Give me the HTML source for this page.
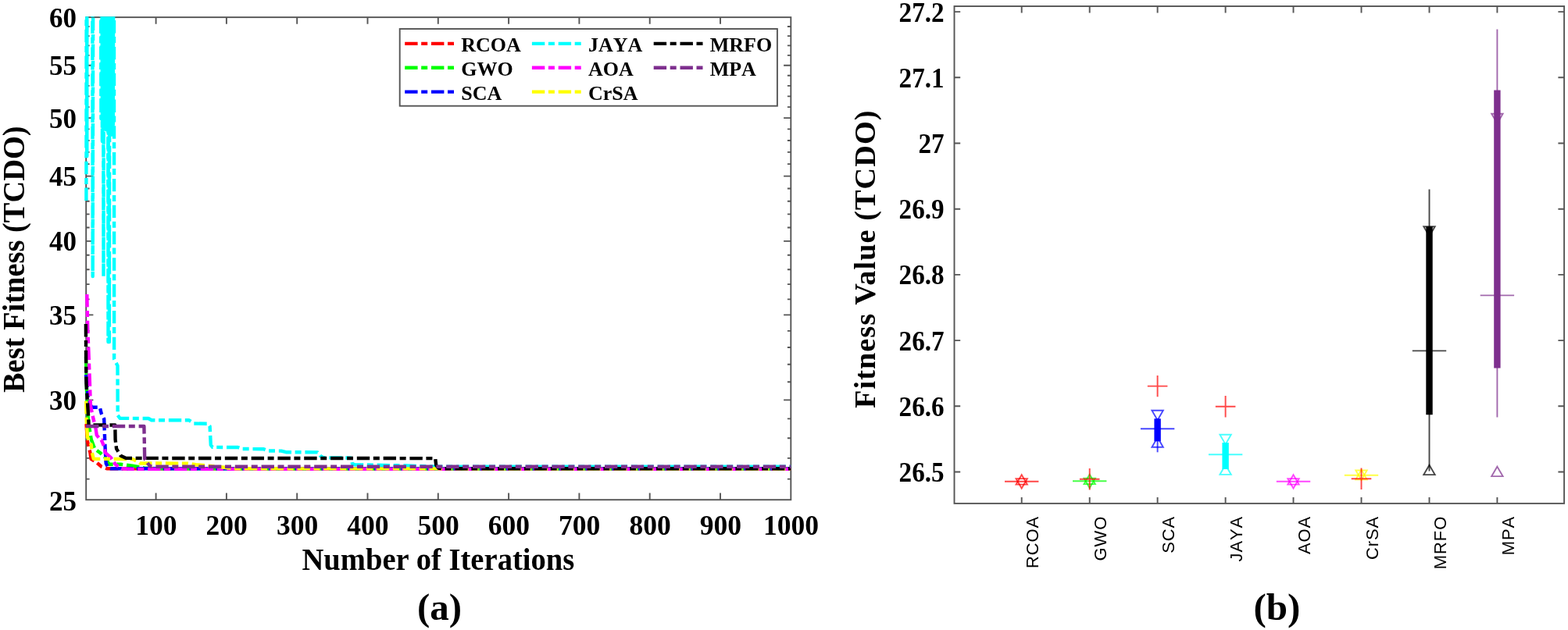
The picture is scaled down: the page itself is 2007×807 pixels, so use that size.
<!DOCTYPE html>
<html lang="en"><head><meta charset="utf-8"><title>Convergence curves and box plot</title>
<style>html,body{margin:0;padding:0;background:#fff}body{width:2007px;height:807px;overflow:hidden}svg{display:block}</style>
</head><body>
<svg width="2007" height="807" viewBox="0 0 2007 807">
<defs><clipPath id="cl"><rect x="107.20" y="21.25" width="906.00" height="619.85"/></clipPath></defs>
<rect width="2007" height="807" fill="#fff"/>
<g stroke="#555555" stroke-width="1.9" fill="none">
<rect x="110.2" y="22.15" width="902.10" height="618.05"/>
<path d="M199.6,640.2 v-8.6 M199.6,22.15 v8.6"/>
<path d="M289.9,640.2 v-8.6 M289.9,22.15 v8.6"/>
<path d="M380.2,640.2 v-8.6 M380.2,22.15 v8.6"/>
<path d="M470.5,640.2 v-8.6 M470.5,22.15 v8.6"/>
<path d="M560.8,640.2 v-8.6 M560.8,22.15 v8.6"/>
<path d="M651.1,640.2 v-8.6 M651.1,22.15 v8.6"/>
<path d="M741.4,640.2 v-8.6 M741.4,22.15 v8.6"/>
<path d="M831.7,640.2 v-8.6 M831.7,22.15 v8.6"/>
<path d="M922.0,640.2 v-8.6 M922.0,22.15 v8.6"/>
<path d="M110.2,613.6 h4.4 M1012.3,613.6 h-4.4"/>
<path d="M110.2,586.9 h4.4 M1012.3,586.9 h-4.4"/>
<path d="M110.2,561.2 h4.4 M1012.3,561.2 h-4.4"/>
<path d="M110.2,536.4 h4.4 M1012.3,536.4 h-4.4"/>
<path d="M110.2,512.4 h9.2 M1012.3,512.4 h-9.2"/>
<path d="M110.2,489.2 h4.4 M1012.3,489.2 h-4.4"/>
<path d="M110.2,466.7 h4.4 M1012.3,466.7 h-4.4"/>
<path d="M110.2,445.0 h4.4 M1012.3,445.0 h-4.4"/>
<path d="M110.2,423.9 h4.4 M1012.3,423.9 h-4.4"/>
<path d="M110.2,403.4 h9.2 M1012.3,403.4 h-9.2"/>
<path d="M110.2,383.4 h4.4 M1012.3,383.4 h-4.4"/>
<path d="M110.2,364.1 h4.4 M1012.3,364.1 h-4.4"/>
<path d="M110.2,345.2 h4.4 M1012.3,345.2 h-4.4"/>
<path d="M110.2,326.8 h4.4 M1012.3,326.8 h-4.4"/>
<path d="M110.2,308.9 h9.2 M1012.3,308.9 h-9.2"/>
<path d="M110.2,291.5 h4.4 M1012.3,291.5 h-4.4"/>
<path d="M110.2,274.4 h4.4 M1012.3,274.4 h-4.4"/>
<path d="M110.2,257.8 h4.4 M1012.3,257.8 h-4.4"/>
<path d="M110.2,241.5 h4.4 M1012.3,241.5 h-4.4"/>
<path d="M110.2,225.6 h9.2 M1012.3,225.6 h-9.2"/>
<path d="M110.2,210.1 h4.4 M1012.3,210.1 h-4.4"/>
<path d="M110.2,194.9 h4.4 M1012.3,194.9 h-4.4"/>
<path d="M110.2,180.0 h4.4 M1012.3,180.0 h-4.4"/>
<path d="M110.2,165.4 h4.4 M1012.3,165.4 h-4.4"/>
<path d="M110.2,151.1 h9.2 M1012.3,151.1 h-9.2"/>
<path d="M110.2,137.1 h4.4 M1012.3,137.1 h-4.4"/>
<path d="M110.2,123.4 h4.4 M1012.3,123.4 h-4.4"/>
<path d="M110.2,109.9 h4.4 M1012.3,109.9 h-4.4"/>
<path d="M110.2,96.7 h4.4 M1012.3,96.7 h-4.4"/>
<path d="M110.2,83.7 h9.2 M1012.3,83.7 h-9.2"/>
<path d="M110.2,70.9 h4.4 M1012.3,70.9 h-4.4"/>
<path d="M110.2,58.4 h4.4 M1012.3,58.4 h-4.4"/>
<path d="M110.2,46.1 h4.4 M1012.3,46.1 h-4.4"/>
<path d="M110.2,34.0 h4.4 M1012.3,34.0 h-4.4"/>
</g>
<g clip-path="url(#cl)">
<path d="M110.5,543.0 L111.9,565.0 L115.4,579.8 L116.5,587.8 L123.8,592.5 L129.7,597.7 L136.7,600.3 L1012.3,600.3" fill="none" stroke="#ff0000" stroke-width="4.4" stroke-dasharray="16.4 4.6 8 4.8" stroke-linejoin="round" />
<path d="M110.0,457.0 L111.0,500.0 L113.0,540.0 L116.8,563.0 L121.3,574.9 L127.8,579.8 L133.7,584.8 L139.6,594.7 L154.5,594.7 L169.4,596.7 L185.0,599.5 L200.0,600.3 L1012.3,600.3" fill="none" stroke="#00ff00" stroke-width="4.4" stroke-dasharray="16.4 4.6 8 4.8" stroke-linejoin="round" />
<path d="M110.0,480.0 L113.0,512.0 L117.3,521.7 L127.8,521.7 L129.7,529.6 L133.2,536.6 L134.2,564.3 L134.4,569.9 L135.7,593.7 L138.7,599.3 L142.0,600.3 L1012.3,600.3" fill="none" stroke="#0000ff" stroke-width="4.4" stroke-dasharray="16.4 4.6 8 4.8" stroke-linejoin="round" />
<path d="M110.4,257.0 L110.6,-30.0 L111.2,-30.0 L111.3,200.0 L111.4,-30.0 L118.3,-30.0 L118.7,354.0 L119.2,-30.0 L129.0,-30.0 L129.4,152.0 L129.8,-30.0 L130.5,-30.0 L130.9,181.0 L131.3,-30.0 L132.1,-30.0 L132.5,354.0 L132.9,-30.0 L133.8,-30.0 L134.2,150.0 L134.6,-30.0 L135.2,-30.0 L135.6,166.0 L136.0,-30.0 L136.6,-30.0 L137.0,160.0 L137.4,-30.0 L138.1,-30.0 L138.5,438.0 L138.9,-30.0 L138.8,-30.0 L139.2,172.0 L139.6,-30.0 L139.5,-30.0 L139.9,438.0 L140.3,-30.0 L141.6,-30.0 L142.0,165.0 L142.4,-30.0 L143.1,-30.0 L143.5,176.0 L143.9,-30.0 L144.4,-30.0 L144.8,160.0 L145.2,-30.0 L146.0,-30.0 L146.1,460.0 L150.5,468.5 L150.7,532.0 L153.5,535.8 L190.0,536.0 L194.0,538.2 L242.0,538.3 L248.0,542.5 L266.0,542.7 L268.6,546.0 L269.8,570.0 L272.0,572.9 L304.5,573.0 L310.0,575.0 L337.5,575.2 L343.0,577.5 L360.0,577.6 L366.0,579.2 L406.5,579.4 L410.0,584.0 L414.0,586.3 L449.5,586.6 L451.0,594.0 L454.0,595.2 L520.0,596.5 L560.0,597.6 L1012.3,597.6" fill="none" stroke="#00ffff" stroke-width="4.4" stroke-dasharray="16.4 4.6 8 4.8" stroke-linejoin="round" />
<path d="M111.3,377.0 L112.2,420.0 L113.4,450.0 L114.9,490.0 L115.9,520.0 L119.3,535.6 L122.3,547.5 L123.8,557.4 L128.7,563.3 L129.7,563.5 L133.7,572.9 L134.7,579.8 L141.6,585.8 L147.6,594.7 L155.5,600.3 L170.0,600.9 L1012.3,600.9" fill="none" stroke="#ff00ff" stroke-width="4.4" stroke-dasharray="16.4 4.6 8 4.8" stroke-linejoin="round" />
<path d="M110.2,513.8 L110.8,540.0 L111.9,560.0 L116.8,569.9 L117.8,579.8 L119.8,587.8 L169.4,588.0 L175.0,590.7 L179.3,593.5 L240.0,593.6 L250.7,595.2 L270.0,597.0 L285.0,598.5 L300.0,600.3 L1012.3,600.6" fill="none" stroke="#ffff00" stroke-width="4.4" stroke-dasharray="16.4 4.6 8 4.8" stroke-linejoin="round" />
<path d="M109.8,415.0 L110.0,450.0 L110.4,490.0 L112.9,530.0 L113.6,544.3 L147.3,544.5 L147.6,563.0 L149.1,574.9 L154.5,583.8 L161.4,586.9 L557.2,587.1 L558.2,596.0 L561.0,599.5 L566.0,600.3 L1012.3,600.3" fill="none" stroke="#000000" stroke-width="4.4" stroke-dasharray="16.4 4.6 8 4.8" stroke-linejoin="round" />
<path d="M110.0,546.0 L184.4,546.0 L185.2,587.8 L189.2,593.7 L192.2,597.3 L196.0,597.7 L1012.3,597.7" fill="none" stroke="#7e2f8e" stroke-width="4.4" stroke-dasharray="16.4 4.6 8 4.8" stroke-linejoin="round" />
</g>
<text transform="translate(97.9,653.7) scale(0.972,1)" text-anchor="end" style="font-family:'Liberation Serif','Times New Roman',serif;font-weight:bold;font-size:36px">25</text>
<text transform="translate(97.9,524.8) scale(0.972,1)" text-anchor="end" style="font-family:'Liberation Serif','Times New Roman',serif;font-weight:bold;font-size:36px">30</text>
<text transform="translate(97.9,415.8) scale(0.972,1)" text-anchor="end" style="font-family:'Liberation Serif','Times New Roman',serif;font-weight:bold;font-size:36px">35</text>
<text transform="translate(97.9,321.3) scale(0.972,1)" text-anchor="end" style="font-family:'Liberation Serif','Times New Roman',serif;font-weight:bold;font-size:36px">40</text>
<text transform="translate(97.9,238.0) scale(0.972,1)" text-anchor="end" style="font-family:'Liberation Serif','Times New Roman',serif;font-weight:bold;font-size:36px">45</text>
<text transform="translate(97.9,163.5) scale(0.972,1)" text-anchor="end" style="font-family:'Liberation Serif','Times New Roman',serif;font-weight:bold;font-size:36px">50</text>
<text transform="translate(97.9,96.1) scale(0.972,1)" text-anchor="end" style="font-family:'Liberation Serif','Times New Roman',serif;font-weight:bold;font-size:36px">55</text>
<text transform="translate(97.9,34.5) scale(0.972,1)" text-anchor="end" style="font-family:'Liberation Serif','Times New Roman',serif;font-weight:bold;font-size:36px">60</text>
<text x="199.9" y="684.9" text-anchor="middle" style="font-family:'Liberation Serif','Times New Roman',serif;font-weight:bold;font-size:35.5px">100</text>
<text x="290.2" y="684.9" text-anchor="middle" style="font-family:'Liberation Serif','Times New Roman',serif;font-weight:bold;font-size:35.5px">200</text>
<text x="380.5" y="684.9" text-anchor="middle" style="font-family:'Liberation Serif','Times New Roman',serif;font-weight:bold;font-size:35.5px">300</text>
<text x="470.8" y="684.9" text-anchor="middle" style="font-family:'Liberation Serif','Times New Roman',serif;font-weight:bold;font-size:35.5px">400</text>
<text x="561.1" y="684.9" text-anchor="middle" style="font-family:'Liberation Serif','Times New Roman',serif;font-weight:bold;font-size:35.5px">500</text>
<text x="651.4" y="684.9" text-anchor="middle" style="font-family:'Liberation Serif','Times New Roman',serif;font-weight:bold;font-size:35.5px">600</text>
<text x="741.7" y="684.9" text-anchor="middle" style="font-family:'Liberation Serif','Times New Roman',serif;font-weight:bold;font-size:35.5px">700</text>
<text x="832.0" y="684.9" text-anchor="middle" style="font-family:'Liberation Serif','Times New Roman',serif;font-weight:bold;font-size:35.5px">800</text>
<text x="922.3" y="684.9" text-anchor="middle" style="font-family:'Liberation Serif','Times New Roman',serif;font-weight:bold;font-size:35.5px">900</text>
<text x="1012.6" y="684.9" text-anchor="middle" style="font-family:'Liberation Serif','Times New Roman',serif;font-weight:bold;font-size:35.5px">1000</text>
<text transform="translate(560.9,730.3) scale(0.98,1)" text-anchor="middle" style="font-family:'Liberation Serif','Times New Roman',serif;font-weight:bold;font-size:39.4px">Number of Iterations</text>
<text transform="translate(30.9,332.2) rotate(-90) scale(0.976,1)" text-anchor="middle" style="font-family:'Liberation Serif','Times New Roman',serif;font-weight:bold;font-size:39.4px">Best Fitness (TCDO)</text>
<text x="562.5" y="794" text-anchor="middle" style="font-family:'Liberation Serif','Times New Roman',serif;font-weight:bold;font-size:49px">(a)</text>
<rect x="511.7" y="37" width="483.2" height="98.7" fill="#fff" stroke="#555555" stroke-width="1.9"/>
<path d="M518.2,55.9 H581.8" stroke="#ff0000" stroke-width="4.4" stroke-dasharray="16.4 4.6 8 4.8" fill="none"/>
<text x="590.2" y="65.9" style="font-family:'Liberation Serif','Times New Roman',serif;font-weight:bold;font-size:26px;font-kerning:none">RCOA</text>
<path d="M518.2,86.8 H581.8" stroke="#00ff00" stroke-width="4.4" stroke-dasharray="16.4 4.6 8 4.8" fill="none"/>
<text x="590.2" y="96.8" style="font-family:'Liberation Serif','Times New Roman',serif;font-weight:bold;font-size:26px;font-kerning:none">GWO</text>
<path d="M518.2,117.6 H581.8" stroke="#0000ff" stroke-width="4.4" stroke-dasharray="16.4 4.6 8 4.8" fill="none"/>
<text x="590.2" y="127.6" style="font-family:'Liberation Serif','Times New Roman',serif;font-weight:bold;font-size:26px;font-kerning:none">SCA</text>
<path d="M680.9,55.9 H744.2" stroke="#00ffff" stroke-width="4.4" stroke-dasharray="16.4 4.6 8 4.8" fill="none"/>
<text x="752.9" y="65.9" style="font-family:'Liberation Serif','Times New Roman',serif;font-weight:bold;font-size:26px;font-kerning:none">JAYA</text>
<path d="M680.9,86.8 H744.2" stroke="#ff00ff" stroke-width="4.4" stroke-dasharray="16.4 4.6 8 4.8" fill="none"/>
<text x="752.9" y="96.8" style="font-family:'Liberation Serif','Times New Roman',serif;font-weight:bold;font-size:26px;font-kerning:none">AOA</text>
<path d="M680.9,117.6 H744.2" stroke="#ffff00" stroke-width="4.4" stroke-dasharray="16.4 4.6 8 4.8" fill="none"/>
<text x="752.9" y="127.6" style="font-family:'Liberation Serif','Times New Roman',serif;font-weight:bold;font-size:26px;font-kerning:none">CrSA</text>
<path d="M836.7,55.9 H900.2" stroke="#000000" stroke-width="4.4" stroke-dasharray="16.4 4.6 8 4.8" fill="none"/>
<text x="908.7" y="65.9" style="font-family:'Liberation Serif','Times New Roman',serif;font-weight:bold;font-size:26px;font-kerning:none">MRFO</text>
<path d="M836.7,86.8 H900.2" stroke="#7e2f8e" stroke-width="4.4" stroke-dasharray="16.4 4.6 8 4.8" fill="none"/>
<text x="908.7" y="96.8" style="font-family:'Liberation Serif','Times New Roman',serif;font-weight:bold;font-size:26px;font-kerning:none">MPA</text>
<g stroke="#555555" stroke-width="1.9" fill="none">
<rect x="1221.5" y="8.0" width="780.6" height="636.9"/>
<path d="M1307.7,644.9 v-8 M1307.7,8.0 v8.6"/>
<path d="M1394.7,644.9 v-8 M1394.7,8.0 v8.6"/>
<path d="M1481.6,644.9 v-8 M1481.6,8.0 v8.6"/>
<path d="M1568.6,644.9 v-8 M1568.6,8.0 v8.6"/>
<path d="M1655.5,644.9 v-8 M1655.5,8.0 v8.6"/>
<path d="M1742.5,644.9 v-8 M1742.5,8.0 v8.6"/>
<path d="M1829.5,644.9 v-8 M1829.5,8.0 v8.6"/>
<path d="M1916.4,644.9 v-8 M1916.4,8.0 v8.6"/>
<path d="M1221.5,604.5 h7.7 M2002.1,604.5 h-7.7"/>
<path d="M1221.5,520.3 h7.7 M2002.1,520.3 h-7.7"/>
<path d="M1221.5,436.1 h7.7 M2002.1,436.1 h-7.7"/>
<path d="M1221.5,351.9 h7.7 M2002.1,351.9 h-7.7"/>
<path d="M1221.5,267.7 h7.7 M2002.1,267.7 h-7.7"/>
<path d="M1221.5,183.5 h7.7 M2002.1,183.5 h-7.7"/>
<path d="M1221.5,99.3 h7.7 M2002.1,99.3 h-7.7"/>
<path d="M1221.5,15.1 h7.7 M2002.1,15.1 h-7.7"/>
</g>
<text transform="translate(1208.6,617.0) scale(0.921,1)" text-anchor="end" style="font-family:'Liberation Serif','Times New Roman',serif;font-weight:bold;font-size:36px">26.5</text>
<text transform="translate(1208.6,532.8) scale(0.921,1)" text-anchor="end" style="font-family:'Liberation Serif','Times New Roman',serif;font-weight:bold;font-size:36px">26.6</text>
<text transform="translate(1208.6,448.6) scale(0.921,1)" text-anchor="end" style="font-family:'Liberation Serif','Times New Roman',serif;font-weight:bold;font-size:36px">26.7</text>
<text transform="translate(1208.6,364.4) scale(0.921,1)" text-anchor="end" style="font-family:'Liberation Serif','Times New Roman',serif;font-weight:bold;font-size:36px">26.8</text>
<text transform="translate(1208.6,280.2) scale(0.921,1)" text-anchor="end" style="font-family:'Liberation Serif','Times New Roman',serif;font-weight:bold;font-size:36px">26.9</text>
<text transform="translate(1208.6,196.0) scale(0.921,1)" text-anchor="end" style="font-family:'Liberation Serif','Times New Roman',serif;font-weight:bold;font-size:36px">27</text>
<text transform="translate(1208.6,111.8) scale(0.921,1)" text-anchor="end" style="font-family:'Liberation Serif','Times New Roman',serif;font-weight:bold;font-size:36px">27.1</text>
<text transform="translate(1208.6,27.6) scale(0.921,1)" text-anchor="end" style="font-family:'Liberation Serif','Times New Roman',serif;font-weight:bold;font-size:36px">27.2</text>
<text transform="translate(1119.7,332.2) rotate(-90)" text-anchor="middle" textLength="381.5" lengthAdjust="spacing" style="font-family:'Liberation Serif','Times New Roman',serif;font-weight:bold;font-size:38.3px">Fitness Value (TCDO)</text>
<text transform="translate(1329.3,660.8) rotate(-90)" text-anchor="end" style="font-family:'Liberation Sans',Arial,sans-serif;font-size:22px;letter-spacing:0.9px;font-kerning:none">RCOA</text>
<text transform="translate(1416.3,660.8) rotate(-90)" text-anchor="end" style="font-family:'Liberation Sans',Arial,sans-serif;font-size:22px;letter-spacing:0.9px;font-kerning:none">GWO</text>
<text transform="translate(1503.2,660.8) rotate(-90)" text-anchor="end" style="font-family:'Liberation Sans',Arial,sans-serif;font-size:22px;letter-spacing:0.9px;font-kerning:none">SCA</text>
<text transform="translate(1590.2,660.8) rotate(-90)" text-anchor="end" style="font-family:'Liberation Sans',Arial,sans-serif;font-size:22px;letter-spacing:0.9px;font-kerning:none">JAYA</text>
<text transform="translate(1677.1,660.8) rotate(-90)" text-anchor="end" style="font-family:'Liberation Sans',Arial,sans-serif;font-size:22px;letter-spacing:0.9px;font-kerning:none">AOA</text>
<text transform="translate(1764.1,660.8) rotate(-90)" text-anchor="end" style="font-family:'Liberation Sans',Arial,sans-serif;font-size:22px;letter-spacing:0.9px;font-kerning:none">CrSA</text>
<text transform="translate(1851.1,660.8) rotate(-90)" text-anchor="end" style="font-family:'Liberation Sans',Arial,sans-serif;font-size:22px;letter-spacing:0.9px;font-kerning:none">MRFO</text>
<text transform="translate(1938.0,660.8) rotate(-90)" text-anchor="end" style="font-family:'Liberation Sans',Arial,sans-serif;font-size:22px;letter-spacing:0.9px;font-kerning:none">MPA</text>
<text x="1634.4" y="794" text-anchor="middle" style="font-family:'Liberation Serif','Times New Roman',serif;font-weight:bold;font-size:49px">(b)</text>
<path d="M1286.0,616.8 h43.4" fill="none" stroke="#ff0000" stroke-width="1.9" stroke-opacity="0.72"/>
<path d="M1307.7,608.2 L1314.9,620.6 L1300.5,620.6 Z" fill="none" stroke="#ff0000" stroke-width="1.9" stroke-opacity="0.72" stroke-linejoin="miter"/>
<path d="M1307.7,625.5 L1314.9,613.1 L1300.5,613.1 Z" fill="none" stroke="#ff0000" stroke-width="1.9" stroke-opacity="0.72" stroke-linejoin="miter"/>
<path d="M1373.0,616.3 h43.4" fill="none" stroke="#00ff00" stroke-width="1.9" stroke-opacity="0.72"/>
<path d="M1394.7,607.7 L1401.9,620.1 L1387.5,620.1 Z" fill="none" stroke="#00ff00" stroke-width="1.9" stroke-opacity="0.72" stroke-linejoin="miter"/>
<path d="M1394.7,625.0 L1401.9,612.6 L1387.5,612.6 Z" fill="none" stroke="#00ff00" stroke-width="1.9" stroke-opacity="0.72" stroke-linejoin="miter"/>
<path d="M1381.9,613.8 h25.6 M1394.7,600.1 v27.4" fill="none" stroke="#ff0000" stroke-width="1.9" stroke-opacity="0.72"/>
<path d="M1481.6,536.0 V579.3" fill="none" stroke="#0000ff" stroke-width="1.9" stroke-opacity="0.72"/>
<path d="M1481.6,536.3 V565.3" fill="none" stroke="#0000ff" stroke-width="8.4"/>
<path d="M1459.9,549.2 h43.4" fill="none" stroke="#0000ff" stroke-width="1.9" stroke-opacity="0.72"/>
<path d="M1481.6,538.2 L1488.8,525.8 L1474.4,525.8 Z" fill="none" stroke="#0000ff" stroke-width="1.9" stroke-opacity="0.72" stroke-linejoin="miter"/>
<path d="M1481.6,560.3 L1488.8,572.8 L1474.4,572.8 Z" fill="none" stroke="#0000ff" stroke-width="1.9" stroke-opacity="0.72" stroke-linejoin="miter"/>
<path d="M1468.8,494.6 h25.6 M1481.6,480.9 v27.4" fill="none" stroke="#ff0000" stroke-width="1.9" stroke-opacity="0.72"/>
<path d="M1568.6,567.1 V601.0" fill="none" stroke="#00ffff" stroke-width="8.4"/>
<path d="M1546.9,582.2 h43.4" fill="none" stroke="#00ffff" stroke-width="1.9" stroke-opacity="0.72"/>
<path d="M1568.6,569.2 L1575.8,556.8 L1561.4,556.8 Z" fill="none" stroke="#00ffff" stroke-width="1.9" stroke-opacity="0.72" stroke-linejoin="miter"/>
<path d="M1568.6,595.5 L1575.8,607.9 L1561.4,607.9 Z" fill="none" stroke="#00ffff" stroke-width="1.9" stroke-opacity="0.72" stroke-linejoin="miter"/>
<path d="M1555.8,520.7 h25.6 M1568.6,507.0 v27.4" fill="none" stroke="#ff0000" stroke-width="1.9" stroke-opacity="0.72"/>
<path d="M1633.8,616.8 h43.4" fill="none" stroke="#ff00ff" stroke-width="1.9" stroke-opacity="0.72"/>
<path d="M1655.5,608.2 L1662.7,620.6 L1648.3,620.6 Z" fill="none" stroke="#ff00ff" stroke-width="1.9" stroke-opacity="0.72" stroke-linejoin="miter"/>
<path d="M1655.5,625.5 L1662.7,613.1 L1648.3,613.1 Z" fill="none" stroke="#ff00ff" stroke-width="1.9" stroke-opacity="0.72" stroke-linejoin="miter"/>
<path d="M1720.8,608.7 h43.4" fill="none" stroke="#ffff00" stroke-width="1.9" stroke-opacity="0.72"/>
<path d="M1742.5,614.9 L1749.7,602.5 L1735.3,602.5 Z" fill="none" stroke="#ffff00" stroke-width="1.9" stroke-opacity="0.72" stroke-linejoin="miter"/>
<path d="M1742.5,601.8 L1749.7,614.2 L1735.3,614.2 Z" fill="none" stroke="#ffff00" stroke-width="1.9" stroke-opacity="0.72" stroke-linejoin="miter"/>
<path d="M1729.7,613.3 h25.6 M1742.5,599.6 v27.4" fill="none" stroke="#ff0000" stroke-width="1.9" stroke-opacity="0.72"/>
<path d="M1829.5,242.4 V603.4" fill="none" stroke="#000000" stroke-width="1.9" stroke-opacity="0.72"/>
<path d="M1829.5,290.3 V531.2" fill="none" stroke="#000000" stroke-width="8.4"/>
<path d="M1807.8,449.4 h43.4" fill="none" stroke="#000000" stroke-width="1.9" stroke-opacity="0.72"/>
<path d="M1829.5,302.7 L1836.7,290.2 L1822.3,290.2 Z" fill="none" stroke="#000000" stroke-width="1.9" stroke-opacity="0.72" stroke-linejoin="miter"/>
<path d="M1829.5,595.7 L1836.7,608.1 L1822.3,608.1 Z" fill="none" stroke="#000000" stroke-width="1.9" stroke-opacity="0.72" stroke-linejoin="miter"/>
<path d="M1916.4,37.4 V534.6" fill="none" stroke="#7e2f8e" stroke-width="1.9" stroke-opacity="0.72"/>
<path d="M1916.4,115.5 V471.5" fill="none" stroke="#7e2f8e" stroke-width="8.4"/>
<path d="M1894.7,378.4 h43.4" fill="none" stroke="#7e2f8e" stroke-width="1.9" stroke-opacity="0.72"/>
<path d="M1916.4,158.2 L1923.6,145.8 L1909.2,145.8 Z" fill="none" stroke="#7e2f8e" stroke-width="1.9" stroke-opacity="0.72" stroke-linejoin="miter"/>
<path d="M1916.4,597.7 L1923.6,610.1 L1909.2,610.1 Z" fill="none" stroke="#7e2f8e" stroke-width="1.9" stroke-opacity="0.72" stroke-linejoin="miter"/>
</svg>
</body></html>
